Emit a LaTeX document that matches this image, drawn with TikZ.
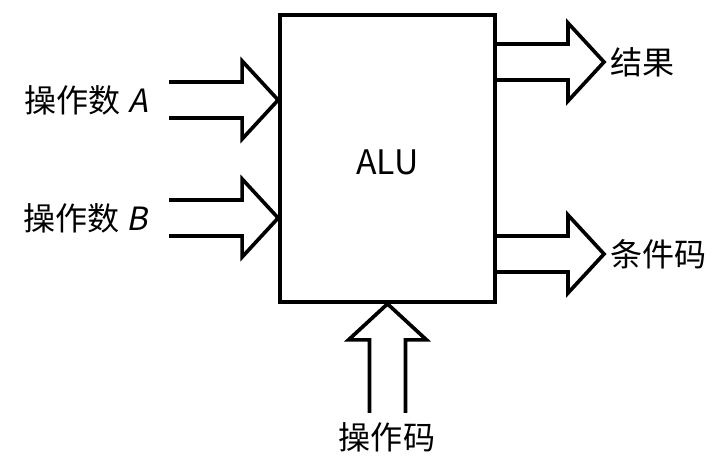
\documentclass[tikz,border=0pt]{standalone}
\usepackage{fontspec}
\setmainfont{Noto Sans CJK SC}[AutoFakeSlant=0.2]
\usepackage{tikz}

\tikzset{
  bigarrow/.pic={
    \draw[line width=2.6pt] (-109,18) -- (-36,18) -- (-36,39) -- (0,0) -- (-36,-39) -- (-36,-18) -- (-109,-18);
  },
  lab/.style={inner sep=0pt, font=\fontsize{22.8pt}{26pt}\selectfont}
}

\begin{document}
\begin{tikzpicture}[x=0.025cm, y=-0.025cm]
\useasboundingbox (0,0) rectangle (728,461);

\node[draw, line width=2.6pt, minimum width=5.375cm, minimum height=7.175cm, inner sep=0pt] (alu) at (387.5,158.5) {};
\node[font=\fontsize{24pt}{28pt}\selectfont] (name) at (387.5,162) {ALU};

\node[lab, anchor=east] (opA) at (148,100) {操作数 \textit{A}};
\node[lab, anchor=east] (opB) at (148,218) {操作数 \textit{B}};
\node[lab, anchor=west] (res) at (610,62) {结果};
\node[lab, anchor=west] (cond) at (610,254) {条件码};
\node[lab] (code) at (387,437) {操作码};

\path (opA -| alu.west) pic {bigarrow};
\path (opB -| alu.west) pic {bigarrow};
\path ([xshift=-0.15cm]res.west) pic {bigarrow};
\path ([xshift=-0.15cm]cond.west) pic {bigarrow};
\path (alu.south) pic[rotate=90] {bigarrow};
\end{tikzpicture}
\end{document}
